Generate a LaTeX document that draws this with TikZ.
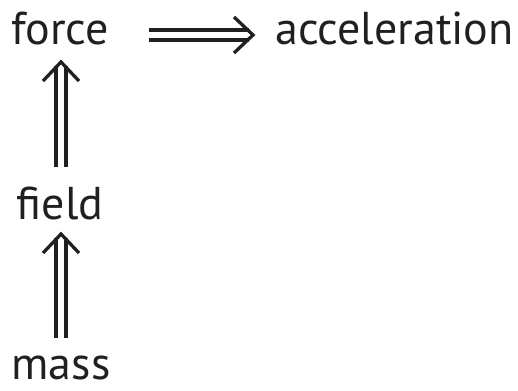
\documentclass[tikz,border=0pt]{standalone}
\usepackage{fontspec}
\setmainfont{PT Sans}
\usetikzlibrary{calc}
\definecolor{ink}{HTML}{231F20}
\begin{document}
\begin{tikzpicture}[x=1pt,y=-1pt,
  lbl/.style={inner sep=0pt, text=ink, font=\fontsize{46}{52}\selectfont},
  shaft/.style={draw=ink, double=white, double distance=6.7pt, line width=3.3pt},
  barb/.style={draw=ink, line width=3.3pt, line join=miter}]
\useasboundingbox (0,0) rectangle (518,390);
\node[lbl, anchor=base] (force) at (60,45) {force};
\node[lbl, anchor=base west] (acc) at (275,45) {acceleration};
\node[lbl, anchor=base] (field) at (60,219) {field};
\node[lbl, anchor=base] (mass) at (61,379) {mass};
% force => acceleration
\coordinate (h0) at ($(force.base east)+(40,-10)$);
\coordinate (h1) at ($(acc.base west)+(-22,-10)$);
\draw[shaft] (h0) -- ($(h1)+(-4,0)$);
\draw[barb] ($(h1)+(-19,-18)$) -- (h1) -- ($(h1)+(-19,18)$);
% field => force
\coordinate (v0) at ($(field.base)+(1,-52)$);
\coordinate (v1) at ($(force.base)+(1,17)$);
\draw[shaft] (v0) -- ($(v1)+(0,4)$);
\draw[barb] ($(v1)+(-18,19)$) -- (v1) -- ($(v1)+(18,19)$);
% mass => field
\coordinate (w0) at ($(mass.base)+(0,-41)$);
\coordinate (w1) at ($(field.base)+(1,15)$);
\draw[shaft] (w0) -- ($(w1)+(0,4)$);
\draw[barb] ($(w1)+(-18,19)$) -- (w1) -- ($(w1)+(18,19)$);
\end{tikzpicture}
\end{document}
